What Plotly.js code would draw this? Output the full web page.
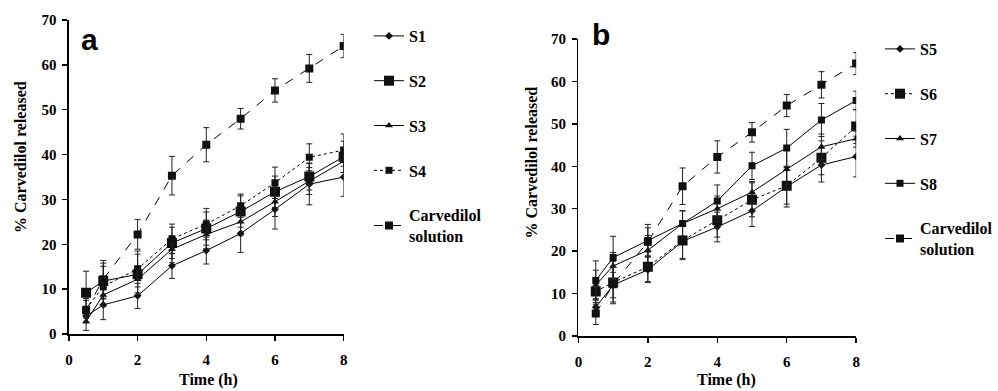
<!DOCTYPE html>
<html>
<head>
<meta charset="utf-8">
<script src="https://cdn.plot.ly/plotly-3.0.1.min.js"></script>
<style>html,body{margin:0;padding:0;background:#fff;}#chart{width:998px;height:391px;}</style>
</head>
<body>
<div id="chart"></div>
<script>
// ---- data ----
const time = [0.5, 1, 2, 3, 4, 5, 6, 7, 8];

// Panel a
const S1 = [4.0, 6.5, 8.5, 15.2, 18.6, 22.4, 27.8, 33.4, 35.0];
const S1err = [1.5, 3.3, 2.8, 2.8, 3.0, 4.2, 4.4, 4.6, 4.3];
const S2 = [9.2, 11.8, 13.3, 20.3, 23.5, 27.3, 31.7, 35.1, 39.5];
const S2err = [4.8, 4.0, 4.5, 3.5, 3.7, 3.5, 3.5, 3.0, 3.5];
const S3 = [2.8, 8.7, 12.2, 18.9, 22.2, 25.0, 29.5, 34.1, 38.5];
const S3err = [2.0, 2.5, 3.0, 3.0, 3.2, 3.0, 3.3, 3.0, 2.5];
const S4 = [5.5, 10.6, 14.5, 21.2, 24.5, 28.6, 33.7, 39.4, 41.0];
const S4err = [2.0, 4.5, 4.0, 3.3, 3.5, 2.6, 3.5, 3.0, 3.6];

// Carvedilol solution (both panels)
const CS = [5.3, 12.2, 22.2, 35.3, 42.2, 48.0, 54.3, 59.2, 64.2];
const CSerr = [2.6, 4.2, 3.3, 4.3, 3.8, 2.3, 2.6, 3.1, 2.6];

// Panel b
const S5 = [6.8, 12.0, 15.6, 22.3, 25.7, 29.5, 35.2, 40.3, 42.3];
const S5err = [2.0, 3.0, 3.0, 4.0, 3.5, 3.7, 4.8, 4.0, 4.8];
const S6 = [10.5, 12.6, 16.3, 22.5, 27.3, 32.1, 35.4, 42.0, 49.4];
const S6err = [3.0, 5.0, 3.5, 4.5, 4.0, 4.0, 4.3, 4.0, 4.0];
const S7 = [12.0, 16.5, 20.2, 26.5, 30.0, 33.9, 39.3, 44.6, 46.5];
const S7err = [3.5, 3.2, 3.5, 3.0, 3.0, 2.5, 4.5, 3.0, 2.0];
const S8 = [13.1, 18.5, 22.5, 26.5, 31.8, 40.1, 44.3, 50.9, 55.5];
const S8err = [4.6, 5.0, 3.8, 3.0, 3.8, 3.2, 4.4, 3.9, 2.2];

const xTicks = [0, 2, 4, 6, 8];
const yTicks = [0, 10, 20, 30, 40, 50, 60, 70];

// ---- styling helpers ----
const serif = 'Liberation Serif';
const sans = 'Liberation Sans';
function tr(name, y, err, sym, size, dash, xa, ya, leg, grp) {
  return {
    x: time, y: y, name: name, type: 'scatter', mode: 'lines+markers',
    xaxis: xa, yaxis: ya, legend: leg, legendgroup: grp,
    line: {color: '#000', width: 1, dash: dash},
    marker: {symbol: sym, size: size, color: '#111'},
    error_y: {type: 'data', array: err, visible: true, color: '#222', thickness: 1, width: 3}
  };
}

const data = [
  tr('S1', S1, S1err, 'diamond', 6, 'solid', 'x', 'y', 'legend', 'a1'),
  tr('S2', S2, S2err, 'square', 10, 'solid', 'x', 'y', 'legend', 'a2'),
  tr('S3', S3, S3err, 'triangle-up', 7, 'solid', 'x', 'y', 'legend', 'a3'),
  tr('S4', S4, S4err, 'square', 7, 'dot', 'x', 'y', 'legend', 'a4'),
  tr('Carvedilol<br>solution', CS, CSerr, 'square', 8, 'dash', 'x', 'y', 'legend', 'a5'),
  tr('S5', S5, S5err, 'diamond', 6, 'solid', 'x2', 'y2', 'legend2', 'b1'),
  tr('S6', S6, S6err, 'square', 10, 'dot', 'x2', 'y2', 'legend2', 'b2'),
  tr('S7', S7, S7err, 'triangle-up', 7, 'solid', 'x2', 'y2', 'legend2', 'b3'),
  tr('S8', S8, S8err, 'square', 7, 'solid', 'x2', 'y2', 'legend2', 'b4'),
  tr('Carvedilol<br>solution', CS, CSerr, 'square', 8, 'dash', 'x2', 'y2', 'legend2', 'b5')
];

const W = 998, H = 391;
const tickFont = {family: serif, size: 15, color: '#000', weight: 'bold'};
function axX(x0, x1, anchor) {
  return {
    domain: [x0 / W, x1 / W], anchor: anchor, range: [0, 8], tickvals: xTicks,
    showgrid: false, zeroline: false, showline: true, linecolor: '#000', linewidth: 1.5,
    ticks: 'outside', ticklen: 5, tickcolor: '#000', tickwidth: 1.5,
    tickfont: tickFont, ticklabelstandoff: 6
  };
}
function axY(yTop, yBot, anchor) {
  return {
    domain: [1 - yBot / H, 1 - yTop / H], anchor: anchor, range: [0, 70], tickvals: yTicks,
    showgrid: false, zeroline: false, showline: true, linecolor: '#000', linewidth: 1.5,
    ticks: 'outside', ticklen: 5, tickcolor: '#000', tickwidth: 1.5,
    tickfont: tickFont, ticklabelstandoff: 3
  };
}
const legFont = {family: serif, size: 16, color: '#000', weight: 'bold'};
const titleFont = {family: serif, size: 16, color: '#000', weight: 'bold'};

function ann(text, x, y, font, angle) {
  return {text: text, xref: 'paper', yref: 'paper', x: x / W, y: 1 - y / H,
          xanchor: 'center', yanchor: 'middle', showarrow: false, textangle: angle || 0, font: font};
}

const layout = {
  width: W, height: H, margin: {l: 0, r: 0, t: 0, b: 0},
  paper_bgcolor: '#fff', plot_bgcolor: 'rgba(0,0,0,0)',
  xaxis: axX(69, 344, 'y'),
  yaxis: axY(20, 334, 'x'),
  xaxis2: axX(579, 857, 'y2'),
  yaxis2: axY(39, 336, 'x2'),
  legend: {x: 369 / W, y: 1 - 19 / H, xanchor: 'left', yanchor: 'top', font: legFont,
           tracegroupgap: 21, bgcolor: 'rgba(0,0,0,0)', itemwidth: 30},
  legend2: {x: 881 / W, y: 1 - 32 / H, xanchor: 'left', yanchor: 'top', font: legFont,
            tracegroupgap: 21, bgcolor: 'rgba(0,0,0,0)', itemwidth: 30},
  showlegend: true,
  annotations: [
    ann('a', 90, 40, {family: sans, size: 30, color: '#000', weight: 'bold'}),
    ann('b', 602, 35, {family: sans, size: 30, color: '#000', weight: 'bold'}),
    ann('% Carvedilol released', 20, 157, titleFont, -90),
    ann('% Carvedilol released', 532, 162, titleFont, -90),
    ann('Time (h)', 209, 380, titleFont),
    ann('Time (h)', 727, 380, titleFont)
  ]
};

Plotly.newPlot('chart', data, layout, {displayModeBar: false, staticPlot: true});
</script>
</body>
</html>
